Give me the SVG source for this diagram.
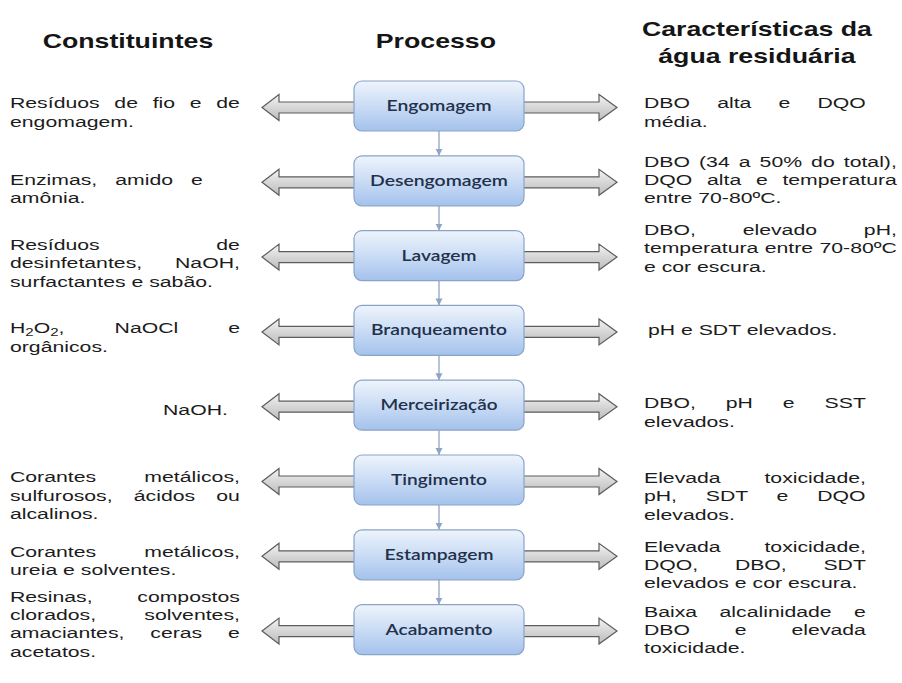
<svg xmlns="http://www.w3.org/2000/svg" xmlns:xlink="http://www.w3.org/1999/xlink" width="902" height="683" viewBox="0 0 902 683">
  <style>
    .head { font-family: "Liberation Sans", Arial, sans-serif; font-size: 19.5px; font-weight: bold; fill: #151515; text-anchor: middle; }
    .body { font-family: "Liberation Sans", Arial, sans-serif; font-size: 15.5px; fill: #1c1c1c; }
    .box { fill: url(#boxFill); stroke: #8aa4c8; stroke-width: 1.2; }
    .label { font-family: Lato, "Open Sans", sans-serif; font-size: 14.5px; font-weight: 600; fill: #22304a; text-anchor: middle; }
    .block { fill: url(#arrowFill); stroke: #5c5c5c; stroke-width: 1.2; stroke-linejoin: miter; }
    .flow { stroke: #8ea6c4; stroke-width: 1.3; fill: none; marker-end: url(#tip); }
  </style>
  <defs>
    <linearGradient id="boxFill" x1="0" y1="0" x2="0" y2="1">
      <stop offset="0" stop-color="#eef4fc"/>
      <stop offset="0.5" stop-color="#cadcf5"/>
      <stop offset="1" stop-color="#a4c2ec"/>
    </linearGradient>
    <linearGradient id="arrowFill" x1="0" y1="0" x2="0" y2="1">
      <stop offset="0" stop-color="#f4f4f4"/>
      <stop offset="0.5" stop-color="#d6d6d6"/>
      <stop offset="1" stop-color="#bdbdbd"/>
    </linearGradient>
    <marker id="tip" markerUnits="userSpaceOnUse" markerWidth="8" markerHeight="8" refX="7" refY="3.5" orient="auto">
      <path d="M0,0 L7,3.5 L0,7 Z" fill="#8ea6c4"/>
    </marker>
    <!-- block arrows drawn about y = 0, placed per row -->
    <path id="arrowL" class="block" d="M262,0 L279,-13 L279,-5.5 L358,-5.5 L358,5.5 L279,5.5 L279,13 Z"/>
    <path id="arrowR" class="block" d="M520,-5.5 L599,-5.5 L599,-13 L617,0 L599,13 L599,5.5 L520,5.5 Z"/>
  </defs>

  <rect width="902" height="683" fill="#ffffff"/>

  <!-- column headings -->
  <g id="headings" transform="scale(1.37 1)">
    <text class="head" x="93.4" y="48">Constituintes</text>
    <text class="head" x="318.2" y="48">Processo</text>
    <text class="head" x="552.5" y="36">Características da</text>
    <text class="head" x="552.5" y="63">água residuária</text>
  </g>

  <!-- connectors: side block arrows and the process flow -->
  <g id="connectors">
    <use xlink:href="#arrowL" y="107.5"/><use xlink:href="#arrowR" y="107.5"/>
    <use xlink:href="#arrowL" y="182.3"/><use xlink:href="#arrowR" y="182.3"/>
    <use xlink:href="#arrowL" y="257.1"/><use xlink:href="#arrowR" y="257.1"/>
    <use xlink:href="#arrowL" y="331.9"/><use xlink:href="#arrowR" y="331.9"/>
    <use xlink:href="#arrowL" y="406.7"/><use xlink:href="#arrowR" y="406.7"/>
    <use xlink:href="#arrowL" y="481.5"/><use xlink:href="#arrowR" y="481.5"/>
    <use xlink:href="#arrowL" y="556.3"/><use xlink:href="#arrowR" y="556.3"/>
    <use xlink:href="#arrowL" y="631.1"/><use xlink:href="#arrowR" y="631.1"/>
    <line class="flow" x1="439" y1="131" x2="439" y2="155.8"/>
    <line class="flow" x1="439" y1="205.8" x2="439" y2="230.6"/>
    <line class="flow" x1="439" y1="280.6" x2="439" y2="305.4"/>
    <line class="flow" x1="439" y1="355.4" x2="439" y2="380.2"/>
    <line class="flow" x1="439" y1="430.2" x2="439" y2="455"/>
    <line class="flow" x1="439" y1="505" x2="439" y2="529.8"/>
    <line class="flow" x1="439" y1="579.8" x2="439" y2="604.6"/>
  </g>

  <!-- process steps -->
  <g id="engomagem">
    <rect class="box" x="354" y="81" width="170" height="50" rx="8"/>
    <text class="label" x="439" y="111" textLength="105" lengthAdjust="spacingAndGlyphs">Engomagem</text>
  </g>
  <g id="desengomagem">
    <rect class="box" x="354" y="155.8" width="170" height="50" rx="8"/>
    <text class="label" x="439" y="185.8" textLength="138" lengthAdjust="spacingAndGlyphs">Desengomagem</text>
  </g>
  <g id="lavagem">
    <rect class="box" x="354" y="230.6" width="170" height="50" rx="8"/>
    <text class="label" x="439" y="260.6" textLength="75" lengthAdjust="spacingAndGlyphs">Lavagem</text>
  </g>
  <g id="branqueamento">
    <rect class="box" x="354" y="305.4" width="170" height="50" rx="8"/>
    <text class="label" x="439" y="335.4" textLength="136" lengthAdjust="spacingAndGlyphs">Branqueamento</text>
  </g>
  <g id="merceirizacao">
    <rect class="box" x="354" y="380.2" width="170" height="50" rx="8"/>
    <text class="label" x="439" y="410.2" textLength="117" lengthAdjust="spacingAndGlyphs">Merceirização</text>
  </g>
  <g id="tingimento">
    <rect class="box" x="354" y="455" width="170" height="50" rx="8"/>
    <text class="label" x="439" y="485" textLength="96" lengthAdjust="spacingAndGlyphs">Tingimento</text>
  </g>
  <g id="estampagem">
    <rect class="box" x="354" y="529.8" width="170" height="50" rx="8"/>
    <text class="label" x="439" y="559.8" textLength="109" lengthAdjust="spacingAndGlyphs">Estampagem</text>
  </g>
  <g id="acabamento">
    <rect class="box" x="354" y="604.6" width="170" height="50" rx="8"/>
    <text class="label" x="439" y="634.6" textLength="107" lengthAdjust="spacingAndGlyphs">Acabamento</text>
  </g>

  <!-- constituents (left column, justified) -->
  <g id="constituintes" class="body" transform="scale(1.37 1)">
    <text class="body" x="7.3" y="108.5" word-spacing="6.43">Resíduos de fio e de</text>
    <text class="body" x="7.3" y="127">engomagem.</text>

    <text class="body" x="7.3" y="185" word-spacing="8.85">Enzimas, amido e</text>
    <text class="body" x="7.3" y="203">amônia.</text>

    <text class="body" x="7.3" y="250" word-spacing="80.86">Resíduos de</text>
    <text class="body" x="7.3" y="268.5" word-spacing="19.7">desinfetantes, NaOH,</text>
    <text class="body" x="7.3" y="287">surfactantes e sabão.</text>

    <text class="body" x="7.3" y="333" word-spacing="32.26">H<tspan dy="3.5" font-size="11">2</tspan><tspan dy="-3.5">O</tspan><tspan dy="3.5" font-size="11">2</tspan><tspan dy="-3.5">, NaOCl e</tspan></text>
    <text class="body" x="7.3" y="352">orgânicos.</text>

    <text class="body" x="119" y="415">NaOH.</text>

    <text class="body" x="7.3" y="482" word-spacing="30.92">Corantes metálicos,</text>
    <text class="body" x="7.3" y="501" word-spacing="11.14">sulfurosos, ácidos ou</text>
    <text class="body" x="7.3" y="519">alcalinos.</text>

    <text class="body" x="7.3" y="557" word-spacing="30.92">Corantes metálicos,</text>
    <text class="body" x="7.3" y="575">ureia e solventes.</text>

    <text class="body" x="7.3" y="602" word-spacing="28.33">Resinas, compostos</text>
    <text class="body" x="7.3" y="620" word-spacing="30.91">clorados, solventes,</text>
    <text class="body" x="7.3" y="638" word-spacing="14.6">amaciantes, ceras e</text>
    <text class="body" x="7.3" y="657">acetatos.</text>
  </g>

  <!-- wastewater characteristics (right column, justified) -->
  <g id="caracteristicas" class="body" transform="scale(1.37 1)">
    <text class="body" x="470.07" y="108.5" word-spacing="15.54">DBO alta e DQO</text>
    <text class="body" x="470.07" y="127">média.</text>

    <text class="body" x="470.07" y="167" word-spacing="2.3">DBO (34 a 50% do total),</text>
    <text class="body" x="470.07" y="185" word-spacing="6.42">DQO alta e temperatura</text>
    <text class="body" x="470.07" y="203">entre 70-80ºC.</text>

    <text class="body" x="470.07" y="235" word-spacing="29.88">DBO, elevado pH,</text>
    <text class="body" x="470.07" y="253" word-spacing="0.34">temperatura entre 70-80ºC</text>
    <text class="body" x="470.07" y="272">e cor escura.</text>

    <text class="body" x="473" y="335">pH e SDT elevados.</text>

    <text class="body" x="470.07" y="408" word-spacing="17.55">DBO, pH e SST</text>
    <text class="body" x="470.07" y="427">elevados.</text>

    <text class="body" x="470.07" y="483" word-spacing="27.65">Elevada toxicidade,</text>
    <text class="body" x="470.07" y="501" word-spacing="16.69">pH, SDT e DQO</text>
    <text class="body" x="470.07" y="520">elevados.</text>

    <text class="body" x="470.07" y="552" word-spacing="27.65">Elevada toxicidade,</text>
    <text class="body" x="470.07" y="570" word-spacing="22.46">DQO, DBO, SDT</text>
    <text class="body" x="470.07" y="588">elevados e cor escura.</text>

    <text class="body" x="470.07" y="617" word-spacing="12.1">Baixa alcalinidade e</text>
    <text class="body" x="470.07" y="635" word-spacing="28.47">DBO e elevada</text>
    <text class="body" x="470.07" y="653">toxicidade.</text>
  </g>
</svg>
